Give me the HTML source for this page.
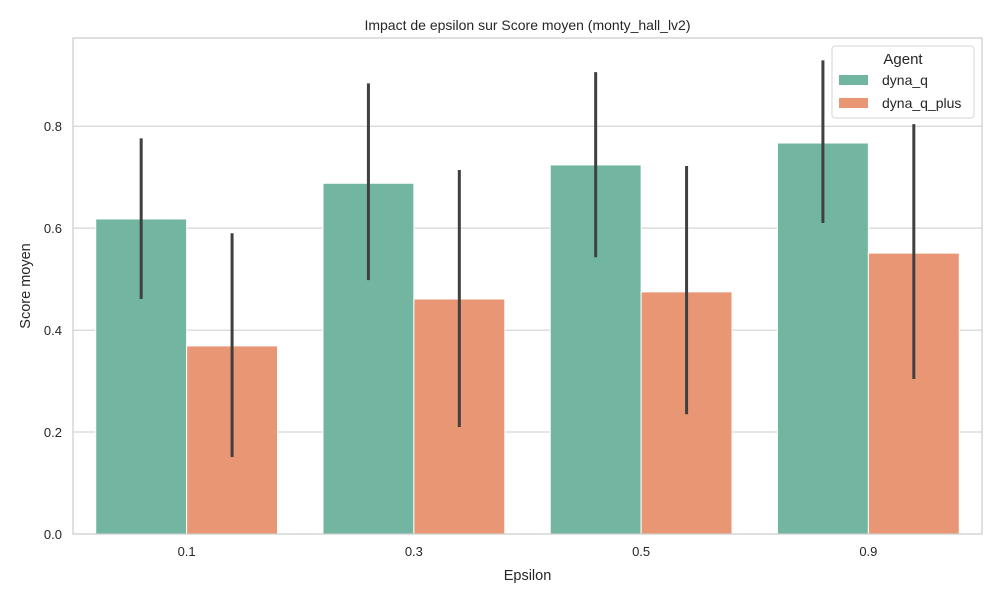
<!DOCTYPE html>
<html><head><meta charset="utf-8"><style>
body{margin:0;background:#fff}
svg{font-family:"Liberation Sans","DejaVu Sans",sans-serif}
</style></head><body>
<svg id="c" width="1000" height="600"></svg>
<script>
const categories=["0.1","0.3","0.5","0.9"];
const seriesNames=["dyna_q","dyna_q_plus"];
const dynaQ=[0.618,0.688,0.724,0.767];
const dynaQLow=[0.461,0.498,0.543,0.610];
const dynaQHigh=[0.776,0.884,0.906,0.929];
const dynaQPlus=[0.369,0.461,0.475,0.551];
const dynaQPlusLow=[0.151,0.210,0.235,0.304];
const dynaQPlusHigh=[0.590,0.714,0.722,0.804];
const yTicks=[0,0.2,0.4,0.6,0.8];
const yTickLabels=["0.0","0.2","0.4","0.6","0.8"];
const colors=["#72b6a1","#e99675"];
const L=73,R=982,T=38,B=534,YMAX=0.973;
const NS="http://www.w3.org/2000/svg";
const svg=document.getElementById('c');
function y(v){return B-(v/YMAX)*(B-T);}
const band=(R-L)/categories.length;
function xc(i){return L+band*(i+0.5);}
function el(tag,a,txt){const e=document.createElementNS(NS,tag);for(const k in a)e.setAttribute(k,a[k]);if(txt!=null)e.textContent=txt;svg.appendChild(e);return e;}
let e;
e=el('rect',{x:L,y:T,width:R-L,height:B-T,fill:'#fff'});


yTicks.forEach((v,i)=>{
 e=el('line',{x1:L,x2:R,y1:y(v),y2:y(v),stroke:'#cccccc','stroke-width':1});
 
 
 e=el('text',{x:L-11,y:y(v)+5,'text-anchor':'end','font-size':13,fill:'#262626'},yTickLabels[i]);
 
 
});
const vals=[dynaQ,dynaQPlus],lows=[dynaQLow,dynaQPlusLow],highs=[dynaQHigh,dynaQPlusHigh];
const bw=band*0.8/2;
categories.forEach((c,i)=>{
 for(let s=0;s<2;s++){
  const x0=xc(i)-bw+s*bw;
  e=el('rect',{x:x0,y:y(vals[s][i]),width:bw,height:B-y(vals[s][i]),fill:colors[s],stroke:'#fff','stroke-width':1});
  
  
  e=el('line',{x1:x0+bw/2,x2:x0+bw/2,y1:y(lows[s][i]),y2:y(highs[s][i]),stroke:'#404040','stroke-width':3});
  
  
 }
 e=el('text',{x:xc(i),y:B+22,'text-anchor':'middle','font-size':13,fill:'#262626'},c);
 
 
});
e=el('rect',{x:L,y:T,width:R-L,height:B-T,fill:'none',stroke:'#cccccc','stroke-width':1.2});


e=el('text',{x:(L+R)/2,y:30,'text-anchor':'middle','font-size':14,fill:'#262626'},'Impact de epsilon sur Score moyen (monty_hall_lv2)');


e=el('text',{x:(L+R)/2,y:580,'text-anchor':'middle','font-size':14.5,fill:'#262626'},'Epsilon');


e=el('text',{x:30,y:(T+B)/2,'text-anchor':'middle','font-size':14.5,fill:'#262626',transform:'rotate(-90 30 '+((T+B)/2)+')'},'Score moyen');


e=el('rect',{x:832,y:46,width:142,height:72,rx:3,fill:'#fff','fill-opacity':0.85,stroke:'#d6d6d6'});


e=el('text',{x:903,y:64,'text-anchor':'middle','font-size':15,fill:'#262626'},'Agent');


seriesNames.forEach((n,s)=>{
 e=el('rect',{x:839,y:75+s*23,width:29,height:10,fill:colors[s]});
 
 
 e=el('text',{x:882,y:85+s*23,'font-size':14,fill:'#262626'},n);
 
 
});
</script>
</body></html>
